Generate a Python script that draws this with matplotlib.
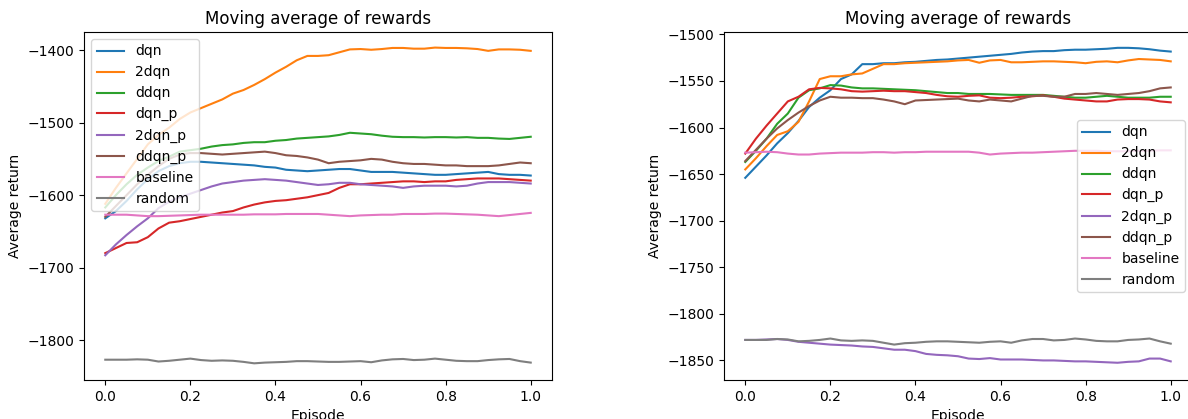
import numpy as np
import matplotlib
matplotlib.use("Agg")
import matplotlib.pyplot as plt

episodes = np.linspace(0, 1, 41)
labels = ["dqn", "2dqn", "ddqn", "dqn_p", "2dqn_p", "ddqn_p", "baseline", "random"]

# ---- left panel ----
L_dqn = [-1632, -1622, -1608, -1592, -1578, -1567, -1560, -1556, -1554, -1554, -1555, -1556, -1557, -1558,
         -1559, -1561, -1562, -1565, -1566, -1567, -1566, -1565, -1564, -1564, -1566, -1568, -1568, -1568,
         -1569, -1570, -1571, -1572, -1572, -1571, -1570, -1569, -1568, -1571, -1572, -1572, -1573]
L_2dqn = [-1612, -1590, -1570, -1550, -1530, -1517, -1507, -1495, -1486, -1480, -1474, -1468, -1460, -1455,
          -1448, -1440, -1431, -1423, -1414, -1408, -1408, -1407, -1403, -1399, -1398.5, -1399.5, -1398.5, -1397,
          -1397, -1398, -1398, -1396.5, -1397, -1397, -1397.5, -1398.5, -1401, -1399, -1399, -1399.5, -1401]
L_ddqn = [-1617, -1600, -1585, -1572, -1562, -1553, -1547, -1540, -1538, -1536, -1533, -1531, -1530, -1528,
          -1527, -1527, -1525, -1524, -1522, -1521, -1520, -1519, -1517, -1514, -1515, -1516, -1518, -1519.5,
          -1520, -1520, -1520.5, -1520, -1520, -1520.5, -1520, -1521, -1521, -1522, -1522.5, -1521, -1519.5]
L_dqn_p = [-1680, -1673, -1666, -1665, -1658, -1646, -1638, -1636, -1633, -1630, -1627, -1624, -1622, -1617,
           -1613, -1610, -1608, -1607, -1605, -1603, -1600, -1597, -1590, -1585, -1585, -1584, -1583, -1582,
           -1581, -1581, -1582, -1581, -1581, -1579, -1578, -1577, -1577, -1577, -1578, -1579, -1580]
L_2dqn_p = [-1683, -1668, -1655, -1643, -1632, -1618, -1609, -1603, -1598, -1593, -1588, -1584, -1582, -1580,
            -1579, -1578, -1579, -1580, -1582, -1584, -1586, -1585, -1583, -1583, -1585, -1586, -1587, -1588,
            -1590, -1588, -1587, -1587, -1587, -1588, -1587, -1584, -1582, -1582, -1582, -1583, -1584]
L_ddqn_p = [-1630, -1615, -1600, -1585, -1572, -1560, -1550, -1544, -1542, -1542, -1543, -1544, -1543, -1542,
            -1541, -1540, -1542, -1545, -1546, -1548, -1551, -1556, -1554, -1553, -1552, -1550, -1551, -1554,
            -1556, -1557, -1557, -1558, -1559, -1559, -1560, -1560, -1560, -1559, -1557, -1555, -1556]
L_baseline = [-1627, -1627, -1627, -1628, -1629, -1629, -1628.5, -1628, -1627.5, -1627, -1627, -1627, -1627,
              -1627, -1626.5, -1626.5, -1626.5, -1626, -1626, -1626, -1626, -1627, -1628, -1629, -1628, -1627.5,
              -1627, -1627, -1626, -1626, -1626, -1625.5, -1625.5, -1626, -1626.5, -1627, -1628, -1629, -1627.5,
              -1626, -1624.5]
L_random = [-1827, -1827, -1827, -1826.5, -1827, -1829.5, -1828.5, -1827, -1825.5, -1827.5, -1828.5, -1828,
            -1828.5, -1830, -1832, -1831, -1830.5, -1830, -1829, -1829, -1829.5, -1830, -1830, -1829.5, -1829,
            -1830.5, -1828, -1826.5, -1826, -1827.5, -1827, -1825.5, -1827, -1828.5, -1829, -1829, -1827.5,
            -1826.5, -1826, -1829, -1831]

# ---- right panel ----
R_dqn = [-1654, -1642, -1630, -1617, -1606, -1593, -1578, -1568, -1560, -1548, -1543, -1532, -1532, -1531,
         -1531, -1530, -1529.5, -1528.5, -1527.5, -1527, -1526, -1525, -1524, -1523, -1522, -1521, -1519.5,
         -1518.5, -1518, -1518, -1517, -1516.5, -1516.5, -1516, -1515.5, -1514.5, -1514.5, -1515, -1516,
         -1517.5, -1518.5]
R_2dqn = [-1645, -1633, -1620, -1608, -1604, -1594, -1572, -1548, -1545, -1545, -1543, -1542, -1537, -1532,
          -1532, -1531, -1530.5, -1530, -1529.5, -1529, -1528, -1527.5, -1530.5, -1528, -1527.5, -1530, -1530,
          -1529.5, -1529, -1529, -1529.5, -1530, -1531, -1529.5, -1529, -1530, -1528, -1526.5, -1527, -1527.5,
          -1529]
R_ddqn = [-1637, -1625, -1612, -1596, -1585, -1568, -1560, -1558, -1554.5, -1555, -1557, -1558, -1558, -1558.5,
          -1559, -1559.5, -1560, -1561, -1562, -1563, -1563, -1564, -1564, -1564, -1564.5, -1565, -1565, -1565,
          -1565, -1566, -1567, -1568, -1568, -1567, -1566, -1567, -1568, -1568, -1568, -1567, -1567]
R_dqn_p = [-1628, -1612, -1598, -1585, -1572, -1567, -1559, -1557.5, -1558, -1559, -1561, -1561.5, -1561,
           -1560.5, -1561, -1561, -1562, -1563, -1565, -1566.5, -1567, -1566, -1565.5, -1568, -1568.5, -1568,
           -1567, -1566.5, -1565.5, -1567, -1569, -1570, -1571, -1572, -1572, -1570, -1569.5, -1569.5, -1570,
           -1572, -1573]
R_2dqn_p = [-1828, -1828, -1827.5, -1827, -1828, -1830, -1831, -1832, -1833, -1833.5, -1834, -1835, -1835.5,
            -1837, -1838.5, -1838.5, -1840, -1843, -1844, -1844.5, -1845.5, -1848, -1848.5, -1847.5, -1849,
            -1849, -1849, -1849.5, -1850, -1850, -1850.5, -1851, -1851, -1851.5, -1852, -1852.5, -1851.5,
            -1851, -1848, -1848, -1851]
R_ddqn_p = [-1636, -1624, -1612, -1601, -1592, -1584, -1577, -1571, -1567, -1568, -1568, -1568.5, -1568.5,
            -1570, -1572, -1575, -1571, -1570.5, -1570, -1569.5, -1569, -1571, -1572, -1570, -1571, -1572,
            -1569, -1566, -1566, -1567, -1567, -1564, -1564, -1563, -1564, -1565, -1564, -1563, -1561, -1558,
            -1557]
R_baseline = [-1627, -1626.5, -1626, -1626.5, -1628, -1629, -1629, -1628, -1627.5, -1627, -1627, -1627, -1626.5,
              -1626.5, -1627, -1626.5, -1626.5, -1626, -1626, -1626, -1626, -1626, -1627, -1629, -1628, -1627.5,
              -1627, -1627, -1626.5, -1626, -1625.5, -1625, -1625, -1625, -1625.5, -1625.5, -1625.5, -1625,
              -1625, -1624.5, -1624.5]
R_random = [-1828, -1828, -1828, -1827, -1827.5, -1829.5, -1829, -1828, -1826.5, -1828.5, -1829, -1828.5, -1829,
            -1831, -1833, -1831.5, -1831, -1830, -1829.5, -1829.5, -1830, -1830.5, -1831, -1830, -1829.5, -1831,
            -1828.5, -1827, -1827, -1828.5, -1828, -1826.5, -1827.5, -1829, -1829.5, -1829.5, -1828, -1827.5,
            -1826.5, -1829.5, -1832]

left_series = [L_dqn, L_2dqn, L_ddqn, L_dqn_p, L_2dqn_p, L_ddqn_p, L_baseline, L_random]
right_series = [R_dqn, R_2dqn, R_ddqn, R_dqn_p, R_2dqn_p, R_ddqn_p, R_baseline, R_random]

W, H = 1188, 419
fig = plt.figure(figsize=(W / 100, H / 100), dpi=100)
ax1 = fig.add_axes([84 / W, 1 - 380 / H, 468 / W, 348 / H])
ax2 = fig.add_axes([724 / W, 1 - 380 / H, 468 / W, 348 / H])

for ax, series, loc, ylim in [(ax1, left_series, "upper left", (-1855, -1375)),
                              (ax2, right_series, "center right", (-1871, -1497.5))]:
    for lab, vals in zip(labels, series):
        ax.plot(episodes, vals, label=lab)
    ax.set_title("Moving average of rewards")
    ax.set_xlabel("Episode")
    ax.set_ylabel("Average return")
    ax.set_ylim(*ylim)
    ax.legend(loc=loc)

fig.savefig("out.png", dpi=100)
